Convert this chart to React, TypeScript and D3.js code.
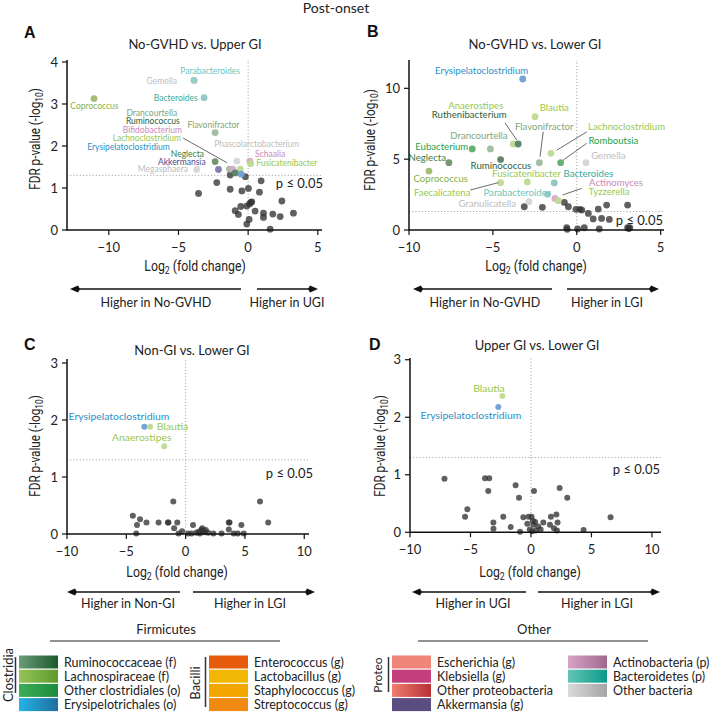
import React from 'react';
import * as d3 from 'd3';

// ---------------- data ----------------
const xTicksAB = [-10, -5, 0, 5];
const xTicksCD = [-10, -5, 0, 5, 10];
const yTicksA = [0, 1, 2, 3, 4];
const yTicksB = [0, 5, 10];
const yTicksCD = [0, 1, 2, 3];
const pCut = -Math.log10(0.05);

// non-significant / unlabeled genera [log2FC, -log10 FDR]
const otherA: [number, number][] = [
  [-2.25, 1.13], [-3.56, 0.87], [-1.29, 0.97], [-0.45, 0.93], [0.02, 0.99], [0.93, 1.17], [0.81, 0.9],
  [2.42, 0.69], [0.26, 0.67], [0.1, 0.62], [-0.1, 0.57], [-0.53, 0.56], [-0.93, 0.46], [-0.7, 0.37],
  [0.5, 0.45], [1.1, 0.4], [1.1, 0.3], [1.77, 0.38], [2.3, 0.32], [3.25, 0.4], [0.07, 0.25],
  [-0.1, 0.14], [1.58, 0.02], [-1.29, 1.31], [-0.2, 1.27], [0.2, 0.66],
];
const otherB: [number, number][] = [
  [-3.13, 1.64], [-2.05, 1.6], [-0.74, 1.95], [-0.5, 1.64], [-0.05, 1.46], [0.19, 1.46], [0.3, 1.41],
  [0.69, 1.17], [0.98, 0.78], [1.28, 1.48], [1.48, 0.82], [1.78, 1.76], [1.94, 0.75], [3.03, 1.76],
  [-0.6, 0.16], [0.05, 0.07], [0.45, 0.16], [1.34, 0.07], [3.03, 0.16], [3.16, 0.16], [-0.57, 0.05], [3.1, 0.1],
];
const otherC: [number, number][] = [
  [-1.04, 0.57], [6.27, 0.57], [-4.45, 0.32], [-3.84, 0.26], [-4.1, 0.16], [-3.3, 0.2], [-2.28, 0.2],
  [-1.5, 0.2], [-1.45, 0.2], [-0.7, 0.2], [-0.97, 0.1], [-4.16, 0.01], [-0.6, 0.01], [0.62, 0.16],
  [1.32, 0.07], [3.64, 0.2], [3.7, 0.2], [3.64, 0.08], [4.7, 0.16], [6.96, 0.2], [2.34, 0.01],
  [3.03, 0.01], [4.05, 0.01], [4.4, 0.01], [4.9, 0.01], [0.5, 0.01], [0.9, 0.02], [1.1, 0.04],
  [1.5, 0.05], [1.7, 0.07], [1.2, 0.01], [1.9, 0.02], [0.2, 0.01], [-0.3, 0.05], [1.4, 0.1], [1.6, 0.03],
];
const otherD: [number, number][] = [
  [-7.15, 0.93], [-3.8, 0.94], [-3.45, 0.94], [-3.53, 0.72], [-1.27, 0.82], [-0.99, 0.6], [0.25, 0.72],
  [2.37, 0.77], [3.0, 0.6], [-5.26, 0.4], [-5.45, 0.27], [-3.11, 0.17], [-3.1, 0.06], [-2.29, 0.27],
  [-0.63, 0.26], [-0.2, 0.27], [0.05, 0.27], [1.02, 0.17], [1.65, 0.27], [2.1, 0.31], [2.2, 0.17],
  [6.58, 0.26], [-1.68, 0.09], [0.2, 0.13], [0.35, 0.18], [0.6, 0.1], [1.57, 0.13], [4.35, 0.04],
  [-0.9, 0.01], [-0.1, 0.05], [0.1, 0.02], [0.4, 0.03], [0.8, 0.05], [1.9, 0.07], [2.15, 0.03],
  [-0.3, 0.15], [0.15, 0.2],
];

type Taxon = { name: string; fc: number; p: number; group: string };
const taxaA: Taxon[] = [
  { name: 'Gemella', fc: -3.85, p: 3.55, group: 'gray' },
  { name: 'Parabacteroides', fc: -3.9, p: 3.57, group: 'bactL' },
  { name: 'Bacteroides', fc: -3.16, p: 3.15, group: 'bact' },
  { name: 'Coprococcus', fc: -11.06, p: 3.13, group: 'lachnoOlive' },
  { name: 'Flavonifractor', fc: -2.37, p: 2.32, group: 'rumLight' },
  { name: 'Neglecta', fc: -2.37, p: 1.63, group: 'rumMid' },
  { name: 'Akkermansia', fc: -2.13, p: 1.44, group: 'akk' },
  { name: 'Megasphaera', fc: -3.69, p: 1.44, group: 'gray' },
  { name: 'Phascolarctobacterium', fc: -0.81, p: 1.64, group: 'gray' },
  { name: 'Schaalia', fc: 0.12, p: 1.64, group: 'actino' },
  { name: 'Fusicatenibacter', fc: 0.18, p: 1.58, group: 'lachno' },
  { name: 'Drancourtella', fc: -1.34, p: 1.45, group: 'rumLight' },
  { name: 'Bifidobacterium', fc: -1.1, p: 1.45, group: 'actino' },
  { name: 'Lachnoclostridium', fc: -0.57, p: 1.45, group: 'lachno' },
  { name: 'Ruminococcus', fc: -0.93, p: 1.36, group: 'rumDark' },
  { name: 'Erysipelatoclostridium', fc: -0.5, p: 1.33, group: 'erysip' },
];
const taxaB: Taxon[] = [
  { name: 'Erysipelatoclostridium', fc: -3.22, p: 10.66, group: 'erysip' },
  { name: 'Anaerostipes', fc: -3.78, p: 6.07, group: 'lachno' },
  { name: 'Ruthenibacterium', fc: -3.49, p: 6.07, group: 'rumDark' },
  { name: 'Blautia', fc: -2.49, p: 8.0, group: 'lachno' },
  { name: 'Flavonifractor', fc: -2.23, p: 4.75, group: 'rumLight' },
  { name: 'Lachnoclostridium', fc: -1.54, p: 5.41, group: 'lachno' },
  { name: 'Romboutsia', fc: -0.96, p: 4.75, group: 'clostr' },
  { name: 'Gemella', fc: 0.55, p: 4.75, group: 'gray' },
  { name: 'Drancourtella', fc: -5.15, p: 5.72, group: 'rumLight' },
  { name: 'Eubacterium', fc: -6.23, p: 5.72, group: 'clostr' },
  { name: 'Neglecta', fc: -7.62, p: 4.75, group: 'rumMid' },
  { name: 'Ruminococcus', fc: -4.54, p: 4.97, group: 'rumDark' },
  { name: 'Coprococcus', fc: -8.81, p: 4.16, group: 'lachnoOlive' },
  { name: 'Fusicatenibacter', fc: -2.95, p: 3.39, group: 'lachno' },
  { name: 'Faecalicatena', fc: -4.54, p: 3.34, group: 'lachno' },
  { name: 'Bacteroides', fc: -1.34, p: 3.32, group: 'bact' },
  { name: 'Parabacteroides', fc: -1.74, p: 2.52, group: 'bactL' },
  { name: 'Actinomyces', fc: -1.3, p: 2.23, group: 'actino' },
  { name: 'Tyzzerella', fc: -1.1, p: 2.07, group: 'lachno' },
  { name: 'Granulicatella', fc: -2.85, p: 2.0, group: 'gray' },
];
const taxaC: Taxon[] = [
  { name: 'Erysipelatoclostridium', fc: -3.48, p: 1.88, group: 'erysip' },
  { name: 'Blautia', fc: -3.0, p: 1.88, group: 'lachno' },
  { name: 'Anaerostipes', fc: -1.8, p: 1.54, group: 'lachno' },
];
const taxaD: Taxon[] = [
  { name: 'Blautia', fc: -2.37, p: 2.37, group: 'lachno' },
  { name: 'Erysipelatoclostridium', fc: -2.7, p: 2.18, group: 'erysip' },
];

// label placement (data units) and leader lines
type Ann = { name: string; lx: number; ly: number; anchor?: string };
const annA: Ann[] = [
  { name: 'Parabacteroides', lx: -2.73, ly: 3.79 }, { name: 'Gemella', lx: -6.2, ly: 3.55 },
  { name: 'Bacteroides', lx: -5.19, ly: 3.15 }, { name: 'Coprococcus', lx: -11.03, ly: 2.94 },
  { name: 'Drancourtella', lx: -6.91, ly: 2.79 }, { name: 'Ruminococcus', lx: -6.84, ly: 2.585 },
  { name: 'Bifidobacterium', lx: -6.87, ly: 2.38 }, { name: 'Lachnoclostridium', lx: -7.27, ly: 2.19 },
  { name: 'Erysipelatoclostridium', lx: -8.59, ly: 1.98 }, { name: 'Flavonifractor', lx: -2.49, ly: 2.5 },
  { name: 'Phascolarctobacterium', lx: 0.62, ly: 2.04 }, { name: 'Schaalia', lx: 1.58, ly: 1.8 },
  { name: 'Fusicatenibacter', lx: 2.78, ly: 1.59 }, { name: 'Neglecta', lx: -4.36, ly: 1.82 },
  { name: 'Akkermansia', lx: -4.76, ly: 1.63 }, { name: 'Megasphaera', lx: -6.12, ly: 1.44 },
];
const annB: Ann[] = [
  { name: 'Erysipelatoclostridium', lx: -5.67, ly: 11.24 }, { name: 'Anaerostipes', lx: -6.02, ly: 8.75 },
  { name: 'Ruthenibacterium', lx: -6.41, ly: 8.12 }, { name: 'Blautia', lx: -1.34, ly: 8.63 },
  { name: 'Flavonifractor', lx: -1.94, ly: 7.29 }, { name: 'Lachnoclostridium', lx: 2.97, ly: 7.29 },
  { name: 'Romboutsia', lx: 2.18, ly: 6.3 }, { name: 'Gemella', lx: 1.88, ly: 5.27 },
  { name: 'Drancourtella', lx: -5.83, ly: 6.63 }, { name: 'Eubacterium', lx: -8.05, ly: 5.88 },
  { name: 'Neglecta', lx: -8.91, ly: 5.1 }, { name: 'Ruminococcus', lx: -4.52, ly: 4.54 },
  { name: 'Coprococcus', lx: -8.11, ly: 3.65 }, { name: 'Fusicatenibacter', lx: -2.99, ly: 3.95 },
  { name: 'Faecalicatena', lx: -8.02, ly: 2.63 }, { name: 'Bacteroides', lx: 0.69, ly: 4.0 },
  { name: 'Parabacteroides', lx: -3.55, ly: 2.63 }, { name: 'Actinomyces', lx: 2.34, ly: 3.37 },
  { name: 'Tyzzerella', lx: 1.92, ly: 2.68 }, { name: 'Granulicatella', lx: -5.33, ly: 1.83 },
];
const annC: Ann[] = [
  { name: 'Erysipelatoclostridium', lx: -5.62, ly: 2.07 },
  { name: 'Blautia', lx: -2.44, ly: 1.88, anchor: 'start' },
  { name: 'Anaerostipes', lx: -3.7, ly: 1.7 },
];
const annD: Ann[] = [
  { name: 'Blautia', lx: -3.47, ly: 2.5 },
  { name: 'Erysipelatoclostridium', lx: -4.96, ly: 2.04 },
];
type Lead = [number, number, number, number];
const leadA: Lead[] = [[-4.67, 2.19, -1.51, 1.6]];
const leadB: Lead[] = [
  [-4.28, 7.57, -3.58, 6.35], [-2.0, 6.94, -2.19, 5.17], [0.59, 6.92, -1.2, 5.63],
  [0.59, 6.12, -0.8, 4.94], [-6.36, 2.82, -4.68, 3.34], [0.29, 2.94, -0.84, 2.47],
];

// legend
const clostridia = ['Ruminococcaceae (f)', 'Lachnospiraceae (f)', 'Other clostridiales (o)', 'Erysipelotrichales (o)'];
const bacilli = ['Enterococcus (g)', 'Lactobacillus (g)', 'Staphylococcus (g)', 'Streptococcus (g)'];
const proteo = ['Escherichia (g)', 'Klebsiella (g)', 'Other proteobacteria', 'Akkermansia (g)'];
const others = ['Actinobacteria (p)', 'Bacteroidetes (p)', 'Other bacteria'];

// ---------------- styles ----------------
const FONT = "Lato, 'Noto Sans', sans-serif";
const NARROW = "Roboto, 'Noto Sans', sans-serif";
const groupCol: Record<string, { t: string; d: string }> = {
  rumDark: { t: '#2b5e38', d: '#5b7f60' },
  rumMid: { t: '#3c7d44', d: '#6f9068' },
  rumLight: { t: '#7ea67e', d: '#9dba9b' },
  lachno: { t: '#98c84f', d: '#bcdb92' },
  lachnoOlive: { t: '#86b044', d: '#9dbc6c' },
  clostr: { t: '#25a04a', d: '#5fae6c' },
  erysip: { t: '#2a8fc6', d: '#6d9fcf' },
  akk: { t: '#4f4a8a', d: '#7d78ab' },
  actino: { t: '#c98ab5', d: '#d6aac8' },
  bact: { t: '#33ab9c', d: '#8dc6bf' },
  bactL: { t: '#6cc4bd', d: '#96cbc6' },
  gray: { t: '#bdbdbd', d: '#d6d6d6' },
};
const legendFill = {
  clostridia: [['#6b9b78', '#1a5a2a'], ['#95c457', '#5e9a2c'], ['#3cae58', '#1e8a3e'], ['#22b4e4', '#1f6fa0']],
  bacilli: [['#e65a0c', '#e65a0c'], ['#f2b705', '#f2b705'], ['#f3a500', '#f3a500'], ['#f08a12', '#f08a12']],
  proteo: [['#ef8478', '#ef8478'], ['#c23e7c', '#c23e7c'], ['#ef7d6e', '#b82f36'], ['#5b4c82', '#5b4c82']],
  others: [['#d8a2c6', '#a0688f'], ['#62c5b6', '#0c9a8a'], ['#dadada', '#a4a4a4']],
};

type Cfg = {
  letter: string; letterX: number; letterY: number;
  title: string; titleX: number; titleY: number;
  xr: [number, number]; xd: [number, number]; yr: [number, number]; yd: [number, number];
  xt: number[]; yt: number[]; other: [number, number][]; taxa: Taxon[]; ann: Ann[]; lead: Lead[];
  labFs: number; r: number; pDy: number; pX: number;
  ylabX: number; ylabY: number;
  xlabX: number; xlabY: number;
  arrowY: number; arrL: [number, number]; arrR: [number, number];
  txtL: string; txtLX: number; txtR: string; txtRX: number; txtY: number;
};

const cfgs: Cfg[] = [
  {
    letter: 'A', letterX: 24, letterY: 38, title: 'No-GVHD vs. Upper GI', titleX: 195, titleY: 49,
    xr: [67, 322], xd: [-13, 5.3], yr: [230, 59.9], yd: [0, 4.05], xt: xTicksAB, yt: yTicksA,
    other: otherA, taxa: taxaA, ann: annA, lead: leadA, labFs: 8.5, r: 3.4, pDy: 13, pX: 323,
    ylabX: 35, ylabY: 139, xlabX: 195, xlabY: 271, arrowY: 289, arrL: [70, 241], arrR: [257, 318],
    txtL: 'Higher in No-GVHD', txtLX: 156, txtR: 'Higher in UGI', txtRX: 287, txtY: 307,
  },
  {
    letter: 'B', letterX: 367, letterY: 37, title: 'No-GVHD vs. Lower GI', titleX: 535, titleY: 49,
    xr: [409, 664], xd: [-10, 5.2], yr: [230, 60], yd: [0, 12], xt: xTicksAB, yt: yTicksB,
    other: otherB, taxa: taxaB, ann: annB, lead: leadB, labFs: 9.6, r: 3.4, pDy: 13, pX: 663,
    ylabX: 370, ylabY: 140, xlabX: 536, xlabY: 271, arrowY: 289, arrL: [413, 552], arrR: [567, 659],
    txtL: 'Higher in No-GVHD', txtLX: 485, txtR: 'Higher in LGI', txtRX: 607, txtY: 307,
  },
  {
    letter: 'C', letterX: 24, letterY: 350, title: 'Non-GI vs. Lower GI', titleX: 192, titleY: 355,
    xr: [67, 309], xd: [-10, 10.4], yr: [534, 359], yd: [0, 3.07], xt: xTicksCD, yt: yTicksCD,
    other: otherC, taxa: taxaC, ann: annC, lead: [], labFs: 10.4, r: 3.0, pDy: 18, pX: 313,
    ylabX: 35, ylabY: 446, xlabX: 177, xlabY: 577, arrowY: 592, arrL: [67, 180], arrR: [193, 315],
    txtL: 'Higher in Non-GI', txtLX: 128, txtR: 'Higher in LGI', txtRX: 250, txtY: 608,
  },
  {
    letter: 'D', letterX: 369, letterY: 350, title: 'Upper GI vs. Lower GI', titleX: 537, titleY: 350,
    xr: [410, 661], xd: [-10, 10.75], yr: [532.3, 358], yd: [0, 3.03], xt: xTicksCD, yt: yTicksCD,
    other: otherD, taxa: taxaD, ann: annD, lead: [], labFs: 10.4, r: 3.0, pDy: 17, pX: 660,
    ylabX: 380, ylabY: 446, xlabX: 530, xlabY: 577, arrowY: 592, arrL: [412, 526], arrR: [538, 660],
    txtL: 'Higher in UGI', txtLX: 473, txtR: 'Higher in LGI', txtRX: 597, txtY: 608,
  },
];

const fmt = d3.format('d');

function Arrow({ x1, x2, y, dir }: { x1: number; x2: number; y: number; dir: 'l' | 'r' }) {
  const tip = dir === 'l' ? x1 : x2;
  const back = dir === 'l' ? tip + 8 : tip - 8;
  return (
    <g>
      <line x1={dir === 'l' ? x1 + 6 : x1} x2={dir === 'l' ? x2 : x2 - 6} y1={y} y2={y} stroke="#111" strokeWidth={1.4} />
      <path d={`M${tip},${y} L${back},${y - 3.5} L${back - (dir === 'l' ? -2 : 2)},${y} L${back},${y + 3.5} Z`} fill="#111" />
    </g>
  );
}

function Panel({ c }: { c: Cfg }) {
  const xs = d3.scaleLinear().domain(c.xd).range(c.xr);
  const ys = d3.scaleLinear().domain(c.yd).range(c.yr);
  const byName: Record<string, Taxon> = {};
  c.taxa.forEach((t) => (byName[t.name] = t));
  const y0 = ys(0);
  return (
    <g>
      <text x={c.letterX} y={c.letterY} fontFamily="Arial, 'Liberation Sans', sans-serif" fontWeight="bold" fontSize={16} fill="#111">{c.letter}</text>
      <text x={c.titleX} y={c.titleY} textAnchor="middle" fontFamily={FONT} fontSize={13} fill="#222">{c.title}</text>
      {/* reference lines */}
      <line x1={c.xr[0]} x2={c.xr[1]} y1={ys(pCut)} y2={ys(pCut)} stroke="#9a9a9a" strokeWidth={1} strokeDasharray="1,2.2" />
      <line x1={xs(0)} x2={xs(0)} y1={y0} y2={c.yr[1]} stroke="#9a9a9a" strokeWidth={1} strokeDasharray="1,2.2" />
      <text x={c.pX} y={ys(pCut) + c.pDy} textAnchor="end" fontFamily={FONT} fontSize={13} fill="#222">p ≤ 0.05</text>
      {/* points */}
      {c.other.map((d, i) => (
        <circle key={'o' + i} cx={xs(d[0])} cy={ys(d[1])} r={c.r} fill="#333" fillOpacity={0.78} />
      ))}
      {c.taxa.map((t, i) => (
        <circle key={'t' + i} cx={xs(t.fc)} cy={ys(t.p)} r={c.r} fill={groupCol[t.group].d} fillOpacity={0.95} />
      ))}
      {c.lead.map((l, i) => (
        <line key={'l' + i} x1={xs(l[0])} y1={ys(l[1])} x2={xs(l[2])} y2={ys(l[3])} stroke="#444" strokeWidth={0.8} />
      ))}
      {c.ann.map((a, i) => (
        <text key={'a' + i} x={xs(a.lx)} y={ys(a.ly)} dy="0.35em" textAnchor={a.anchor || 'middle'}
          fontFamily={FONT} fontSize={c.labFs} fill={groupCol[byName[a.name].group].t}>{a.name}</text>
      ))}
      {/* axes */}
      <line x1={c.xr[0]} x2={c.xr[1]} y1={y0} y2={y0} stroke="#111" strokeWidth={1.5} />
      <line x1={c.xr[0]} x2={c.xr[0]} y1={y0 + 0.75} y2={c.yr[1]} stroke="#111" strokeWidth={1.5} />
      {c.xt.map((t) => (
        <g key={'xt' + t}>
          <line x1={xs(t)} x2={xs(t)} y1={y0} y2={y0 + 5} stroke="#111" strokeWidth={1.2} />
          <text x={xs(t)} y={y0 + 21.5} textAnchor="middle" fontFamily={FONT} fontSize={13} fill="#222">{fmt(t)}</text>
        </g>
      ))}
      {c.yt.map((t) => (
        <g key={'yt' + t}>
          <line x1={c.xr[0] - 5} x2={c.xr[0]} y1={ys(t)} y2={ys(t)} stroke="#111" strokeWidth={1.2} />
          <text x={c.xr[0] - 9} y={ys(t)} dy="0.36em" textAnchor="end" fontFamily={FONT} fontSize={13} fill="#222">{fmt(t)}</text>
        </g>
      ))}
      <text transform={`translate(${c.ylabX},${c.ylabY}) rotate(-90) scale(0.84,1)`} textAnchor="middle" dy="0.35em"
        fontFamily={NARROW} fontSize={14} fill="#222">
        FDR p-value (-log<tspan fontSize={10} dy={3}>10</tspan><tspan dy={-3}>)</tspan>
      </text>
      <text transform={`translate(${c.xlabX},${c.xlabY}) scale(0.88,1)`} textAnchor="middle"
        fontFamily={NARROW} fontSize={14} fill="#222">
        Log<tspan fontSize={10} dy={3}>2</tspan><tspan dy={-3}> (fold change)</tspan>
      </text>
      <Arrow x1={c.arrL[0]} x2={c.arrL[1]} y={c.arrowY} dir="l" />
      <Arrow x1={c.arrR[0]} x2={c.arrR[1]} y={c.arrowY} dir="r" />
      <text x={c.txtLX} y={c.txtY} textAnchor="middle" fontFamily={FONT} fontSize={12.5} fill="#222">{c.txtL}</text>
      <text x={c.txtRX} y={c.txtY} textAnchor="middle" fontFamily={FONT} fontSize={12.5} fill="#222">{c.txtR}</text>
    </g>
  );
}

function LegendCol({ id, items, fills, x, y0 }: { id: string; items: string[]; fills: string[][]; x: number; y0: number }) {
  const rowY = d3.scaleLinear().domain([0, 1]).range([y0, y0 + 14.2]);
  return (
    <g>
      {items.map((name, i) => (
        <g key={name}>
          <defs>
            <linearGradient id={`${id}${i}`} x1="0" x2="1" y1="0" y2="0">
              <stop offset="0" stopColor={fills[i][0]} />
              <stop offset="1" stopColor={fills[i][1]} />
            </linearGradient>
          </defs>
          <rect x={x} y={rowY(i)} width={39} height={13} fill={`url(#${id}${i})`} />
          <text x={x + 45} y={rowY(i) + 6.5} dy="0.36em" fontFamily={FONT} fontSize={12.5} fill="#222">{name}</text>
        </g>
      ))}
    </g>
  );
}

export default function App() {
  const ly = 655.5;
  return (
    <svg width={710} height={712} style={{ position: 'absolute', left: 0, top: 0, background: '#fff' }}>
      <rect width={710} height={712} fill="#fff" />
      <text x={336} y={13} textAnchor="middle" fontFamily={FONT} fontSize={14} fill="#222">Post-onset</text>
      {cfgs.map((c) => <Panel key={c.letter} c={c} />)}
      {/* legend */}
      <text x={166} y={634} textAnchor="middle" fontFamily={FONT} fontSize={13} fill="#222">Firmicutes</text>
      <line x1={50} x2={280} y1={641} y2={641} stroke="#222" strokeWidth={1.2} />
      <text x={534} y={634} textAnchor="middle" fontFamily={FONT} fontSize={13} fill="#222">Other</text>
      <line x1={418} x2={648} y1={641} y2={641} stroke="#222" strokeWidth={1.2} />

      <LegendCol id="gc" items={clostridia} fills={legendFill.clostridia} x={19} y0={ly} />
      <LegendCol id="gb" items={bacilli} fills={legendFill.bacilli} x={209} y0={ly} />
      <LegendCol id="gp" items={proteo} fills={legendFill.proteo} x={392} y0={ly} />
      <LegendCol id="go" items={others} fills={legendFill.others} x={568} y0={ly} />

      <line x1={15.5} x2={15.5} y1={657} y2={693} stroke="#333" strokeWidth={1.5} />
      <text transform="translate(8,675) rotate(-90)" textAnchor="middle" dy="0.35em" fontFamily={FONT} fontSize={13} fill="#222">Clostridia</text>
      <line x1={205.5} x2={205.5} y1={657} y2={707} stroke="#333" strokeWidth={1.5} />
      <text transform="translate(195,683) rotate(-90)" textAnchor="middle" dy="0.35em" fontFamily={FONT} fontSize={13} fill="#222">Bacilli</text>
      <line x1={388.5} x2={388.5} y1={657} y2={692} stroke="#333" strokeWidth={1.5} />
      <text transform="translate(378,675) rotate(-90)" textAnchor="middle" dy="0.35em" fontFamily={FONT} fontSize={12} fill="#222">Proteo</text>
    </svg>
  );
}
